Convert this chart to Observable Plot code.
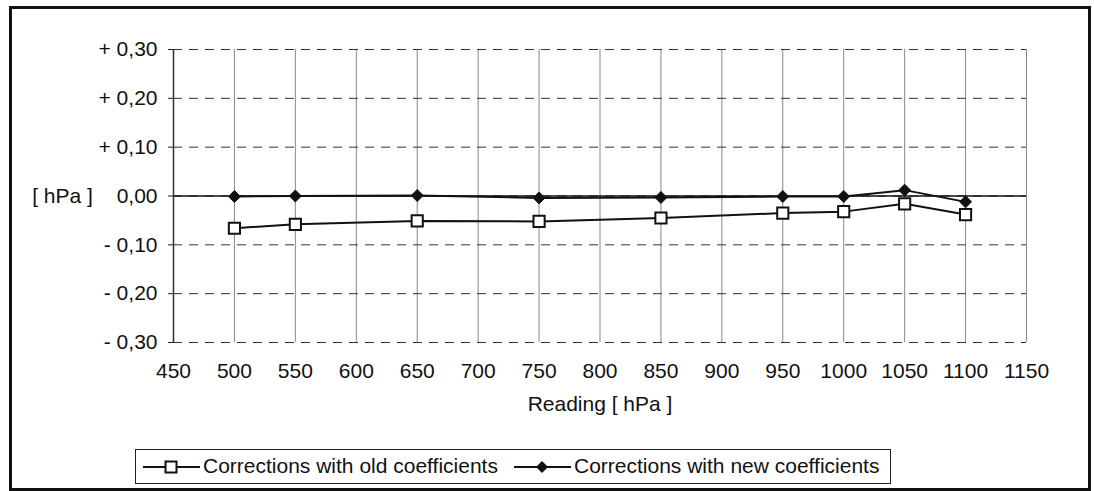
<!DOCTYPE html>
<html>
<head>
<meta charset="utf-8">
<script src="https://cdn.jsdelivr.net/npm/d3@7"></script>
<script src="https://cdn.jsdelivr.net/npm/@observablehq/plot@0.6"></script>
<style>
  html, body { margin: 0; padding: 0; background: #fff; }
  #wrap { position: relative; width: 1094px; height: 491px; overflow: hidden; font-family: "Liberation Sans", Arial, sans-serif; color: #111; }
  #frame { position: absolute; left: 9px; top: 6px; width: 1082px; height: 485px; border: 3px solid #111; box-sizing: border-box; }
  #chart { position: absolute; left: 0; top: 0; }
  #legend { position: absolute; left: 135px; top: 449px; width: 756px; height: 35px; border: 1px solid #222; box-sizing: border-box; background: #fff; }
  #legend .sym { position: absolute; top: 7px; }
  #legend .lbl { position: absolute; top: 4px; font-size: 21px; line-height: 24px; white-space: nowrap; color: #111; }
</style>
</head>
<body>
<div id="wrap">
  <div id="frame"></div>
  <div id="chart"></div>
  <div id="legend"></div>
</div>
<script>
// Data
const readings = [500, 550, 650, 750, 850, 950, 1000, 1050, 1100];
const oldCorrections = [-0.066, -0.058, -0.051, -0.052, -0.045, -0.035, -0.032, -0.016, -0.038];
const newCorrections = [-0.001, 0.000, 0.001, -0.004, -0.003, -0.001, -0.001, 0.012, -0.012];
const seriesNames = ["Corrections with old coefficients", "Corrections with new coefficients"];
const xTicks = [450, 500, 550, 600, 650, 700, 750, 800, 850, 900, 950, 1000, 1050, 1100, 1150];
const yTicks = [-0.3, -0.2, -0.1, 0, 0.1, 0.2, 0.3];
const yAxisTitle = "[ hPa ]";
const xAxisTitle = "Reading [ hPa ]";

const oldData = readings.map((x, i) => ({x, y: oldCorrections[i]}));
const newData = readings.map((x, i) => ({x, y: newCorrections[i]}));

const fmtY = d => {
  if (Math.abs(d) < 1e-9) return "0,00";
  const s = Math.abs(d).toFixed(2).replace(".", ",");
  return (d > 0 ? "+ " : "- ") + s;
};

const plot = Plot.plot({
  width: 1094,
  height: 430,
  marginLeft: 173,
  marginRight: 68,
  marginTop: 49,
  marginBottom: 88,
  style: {fontFamily: "'Liberation Sans', Arial, sans-serif", fontSize: "21px", color: "#111", background: "transparent", overflow: "visible"},
  x: {domain: [450, 1150], axis: null},
  y: {domain: [-0.3, 0.3], axis: null},
  marks: [
    Plot.gridX(xTicks.filter(t => t > 450), {stroke: "#888", strokeOpacity: 1, strokeWidth: 1}),
    Plot.gridY(yTicks, {stroke: "#333", strokeOpacity: 1, strokeWidth: 1, strokeDasharray: "9,7"}),
    Plot.ruleY([0], {stroke: "#111", strokeWidth: 1.5}),
    Plot.ruleX([450], {stroke: "#333", strokeWidth: 1.5}),
    Plot.axisY(yTicks, {tickSize: 5, tickPadding: 11, tickFormat: fmtY, label: null, fontSize: 21, stroke: "#222"}),
    Plot.axisX(xTicks, {tickSize: 0, tickPadding: 21, tickFormat: d => String(d), label: null, fontSize: 21}),
    Plot.text([yAxisTitle], {y: () => 0, frameAnchor: "left", textAnchor: "middle", dx: -111, text: d => d, fontSize: 21, fill: "#111"}),
    Plot.text([xAxisTitle], {frameAnchor: "bottom", textAnchor: "middle", dy: 68, text: d => d, fontSize: 21, fill: "#111"}),
    Plot.line(oldData, {x: "x", y: "y", stroke: "#111", strokeWidth: 2}),
    Plot.line(newData, {x: "x", y: "y", stroke: "#111", strokeWidth: 2}),
    Plot.dot(newData, {x: "x", y: "y", symbol: "diamond2", r: 5.4, fill: "#111", stroke: "#111", strokeWidth: 1}),
    Plot.dot(oldData, {x: "x", y: "y", symbol: "square", r: 6.3, fill: "#fff", stroke: "#111", strokeWidth: 2})
  ]
});
document.getElementById("chart").appendChild(plot);

// Legend
const legend = document.getElementById("legend");
const items = [
  {symLeft: 7, lblLeft: 67, kind: "square", name: seriesNames[0]},
  {symLeft: 378, lblLeft: 438, kind: "diamond", name: seriesNames[1]}
];
for (const it of items) {
  const ns = "http://www.w3.org/2000/svg";
  const svg = document.createElementNS(ns, "svg");
  svg.setAttribute("width", 57);
  svg.setAttribute("height", 20);
  svg.setAttribute("class", "sym");
  svg.style.left = it.symLeft + "px";
  const ln = document.createElementNS(ns, "line");
  ln.setAttribute("x1", 0); ln.setAttribute("x2", 57);
  ln.setAttribute("y1", 10); ln.setAttribute("y2", 10);
  ln.setAttribute("stroke", "#111"); ln.setAttribute("stroke-width", 2);
  svg.appendChild(ln);
  if (it.kind === "square") {
    const r = document.createElementNS(ns, "rect");
    r.setAttribute("x", 22.5); r.setAttribute("y", 4.5);
    r.setAttribute("width", 11); r.setAttribute("height", 11);
    r.setAttribute("fill", "#fff"); r.setAttribute("stroke", "#111"); r.setAttribute("stroke-width", 2);
    svg.appendChild(r);
  } else {
    const p = document.createElementNS(ns, "path");
    p.setAttribute("d", "M28,4L34,10L28,16L22,10Z");
    p.setAttribute("fill", "#111");
    svg.appendChild(p);
  }
  legend.appendChild(svg);
  const lbl = document.createElement("div");
  lbl.className = "lbl";
  lbl.style.left = it.lblLeft + "px";
  lbl.textContent = it.name;
  legend.appendChild(lbl);
}
</script>
</body>
</html>
